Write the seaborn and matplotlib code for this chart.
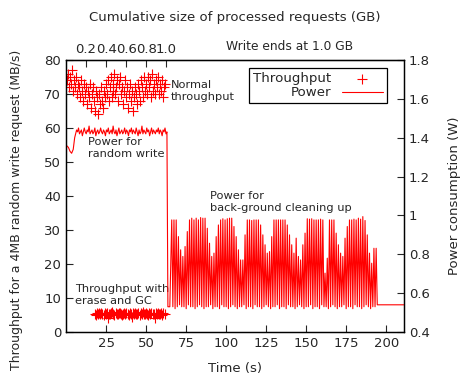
import numpy as np
import pandas as pd
import seaborn as sns
import matplotlib.pyplot as plt
from matplotlib.ticker import FormatStrFormatter

# throughput of the normal run (MB/s), one sample every 0.62 s
normal_start, normal_step = 0.5, 0.62
normal_tput = [74, 76, 72, 75, 73, 77, 71, 74, 72, 75,
               70, 73, 72, 69, 74, 71, 68, 73, 70, 72,
               67, 71, 69, 73, 66, 70, 72, 68, 65, 71,
               69, 64, 70, 67, 72, 68, 66, 71, 69, 73,
               70, 74, 68, 72, 75, 69, 73, 71, 76, 70,
               72, 74, 68, 73, 75, 70, 72, 67, 71, 74,
               69, 72, 66, 70, 73, 68, 71, 65, 69, 72,
               70, 67, 73, 71, 68, 74, 72, 69, 75, 71,
               73, 70, 75, 72, 74, 69, 76, 71, 73, 70,
               74, 72, 75, 70, 73, 71, 74, 69, 72, 73]

# throughput with erase and GC (MB/s), one sample every 0.68 s
gc_start, gc_step = 18.0, 0.68
gc_tput = [5.4, 5.1, 5.6, 5.3, 5.5, 5.2, 5.7, 5.4, 5.0, 5.5,
           5.3, 5.6, 4.2, 5.4, 5.2, 5.5, 5.8, 5.3, 5.1, 5.6,
           5.4, 5.2, 5.5, 5.7, 5.3, 5.0, 5.4, 5.6, 5.2, 5.5,
           5.3, 5.1, 5.6, 5.4, 4.3, 5.5, 5.2, 5.7, 5.3, 5.4,
           5.6, 5.1, 5.5, 5.3, 5.8, 5.2, 5.4, 5.6, 5.3, 5.0,
           5.5, 5.2, 5.6, 5.4, 5.3, 4.1, 5.5, 5.2, 5.7, 5.4,
           5.3, 5.6, 5.1, 5.5, 5.4]

# power consumption (W)
head_t = [0.0, 0.3, 1.5, 2.5, 3.5, 4.5, 5.4]
head_w = [0.52, 1.36, 1.35, 1.33, 1.32, 1.34, 1.40]

plateau_start, plateau_step = 6.0, 0.6
plateau_w = [1.42, 1.44, 1.43, 1.45, 1.42, 1.43, 1.44, 1.41, 1.43, 1.45,
             1.43, 1.42, 1.44, 1.43, 1.46, 1.42, 1.43, 1.44, 1.42, 1.43,
             1.45, 1.41, 1.43, 1.44, 1.42, 1.43, 1.45, 1.43, 1.42, 1.44,
             1.43, 1.41, 1.44, 1.43, 1.45, 1.42, 1.43, 1.44, 1.42, 1.46,
             1.43, 1.42, 1.44, 1.41, 1.43, 1.45, 1.42, 1.43, 1.44, 1.42,
             1.43, 1.45, 1.42, 1.44, 1.43, 1.41, 1.44, 1.43, 1.45, 1.42,
             1.44, 1.43, 1.42, 1.45, 1.43, 1.41, 1.44, 1.42, 1.43, 1.46,
             1.42, 1.44, 1.43, 1.42, 1.45, 1.43, 1.44, 1.41, 1.43, 1.45,
             1.42, 1.44, 1.43, 1.42, 1.44, 1.43, 1.45, 1.42, 1.44, 1.43,
             1.41, 1.44, 1.43, 1.45, 1.42]

drop_t = [63.0, 63.6, 64.8]
drop_w = [1.43, 0.53, 0.53]

# back-ground cleaning: peaks every ~1.39 s, each followed by a low
spike_start, spike_step = 66.0, 1.387
spike_peaks = [0.977, 0.977, 0.977, 0.891, 0.823, 0.789, 0.840, 0.917, 0.977, 0.986,
               0.977, 0.986, 0.977, 0.989, 0.986, 0.986, 0.934, 0.857, 0.789, 0.806,
               0.891, 0.951, 0.977, 0.983, 0.977, 0.983, 0.986, 0.986, 0.943, 0.891,
               0.823, 0.771, 0.771, 0.900, 0.977, 0.977, 0.974, 0.977, 0.977, 0.977,
               0.951, 0.900, 0.849, 0.806, 0.814, 0.891, 0.977, 0.977, 0.977, 0.977,
               0.977, 0.977, 0.951, 0.900, 0.849, 0.806, 0.883, 0.789, 0.771, 0.849,
               0.909, 0.983, 0.981, 0.983, 0.977, 0.977, 0.977, 0.981, 0.977, 0.703,
               0.780, 0.977, 0.977, 0.977, 0.909, 0.849, 0.806, 0.789, 0.883, 0.943,
               0.977, 0.977, 0.981, 0.977, 0.986, 0.981, 0.994, 0.974, 0.900, 0.806,
               0.754, 0.831, 0.831]
spike_lows = [0.53, 0.52, 0.53, 0.54, 0.53, 0.53, 0.52, 0.54, 0.53, 0.53,
              0.52, 0.53, 0.54, 0.53, 0.52, 0.53, 0.53, 0.54, 0.52, 0.53,
              0.53, 0.52, 0.54, 0.53, 0.53, 0.52, 0.53, 0.54, 0.53, 0.52,
              0.53, 0.53, 0.54, 0.52, 0.53, 0.53, 0.52, 0.54, 0.53, 0.53,
              0.52, 0.53, 0.54, 0.53, 0.52, 0.53, 0.53, 0.54, 0.52, 0.53,
              0.53, 0.52, 0.54, 0.53, 0.53, 0.52, 0.53, 0.54, 0.53, 0.52,
              0.53, 0.53, 0.54, 0.52, 0.53, 0.53, 0.52, 0.54, 0.53, 0.53,
              0.52, 0.53, 0.54, 0.53, 0.52, 0.53, 0.53, 0.54, 0.52, 0.53,
              0.53, 0.52, 0.54, 0.53, 0.53, 0.52, 0.53, 0.54, 0.53, 0.52,
              0.53, 0.53, 0.54]

tail_t = [194.5, 211.0]
tail_w = [0.54, 0.54]

secs_per_gb = 62.5

x_ticks = [25, 50, 75, 100, 125, 150, 175, 200]
gb_ticks = [0.2, 0.4, 0.6, 0.8, 1.0]
gb_labels = ['0.2', '0.4', '0.6', '0.8', '1.0']

# ---- assemble tables
tput = pd.DataFrame({
    't': np.concatenate([normal_start + normal_step * np.arange(len(normal_tput)),
                         gc_start + gc_step * np.arange(len(gc_tput))]),
    'mbps': normal_tput + gc_tput,
})

spike_t = spike_start + spike_step * np.arange(len(spike_peaks))
spike_pairs_t = np.ravel(np.column_stack([spike_t, spike_t + spike_step / 2]))
spike_pairs_w = np.ravel(np.column_stack([spike_peaks, spike_lows]))
power = pd.DataFrame({
    't': np.concatenate([head_t,
                         plateau_start + plateau_step * np.arange(len(plateau_w)),
                         drop_t, spike_pairs_t, tail_t]),
    'watt': np.concatenate([head_w, plateau_w, drop_w, spike_pairs_w, tail_w]),
})

sns.set_style('ticks')
plt.rcParams['font.family'] = ['DejaVu Sans']

fig = plt.figure(figsize=(4.61, 3.81), dpi=100)
ax = fig.add_axes([0.1432, 0.1286, 0.7332, 0.7139])
ax2 = ax.twinx()

sns.scatterplot(data=tput, x='t', y='mbps', marker='+', color='red', s=45,
                linewidth=0.8, ax=ax, label='Throughput', legend=False)
sns.lineplot(data=power, x='t', y='watt', color='red', lw=0.8, estimator=None,
             sort=False, ax=ax2, label='Power', legend=False)

ax.set_xlim(0, 211)
ax.set_ylim(0, 80)
ax2.set_ylim(0.4, 1.8)
ax.set_xticks(x_ticks)
ax.set_yticks(range(0, 81, 10))
ax2.set_yticks(np.arange(0.4, 1.81, 0.2))
ax2.yaxis.set_major_formatter(FormatStrFormatter('%g'))

for a in (ax, ax2):
    a.tick_params(direction='in', length=5, width=0.8, labelsize=9.5)
    for s in a.spines.values():
        s.set_linewidth(0.9)
        s.set_color('black')

ax.set_xlabel('Time (s)', fontsize=9.5, labelpad=9)
ax.set_ylabel('Throughput for a 4MB random write request (MB/s)', fontsize=9)
ax.yaxis.set_label_coords(-0.128, 0.45)
ax2.set_ylabel('Power consumption (W)', fontsize=9.5, labelpad=13)

top = ax.secondary_xaxis('top', functions=(lambda t: t / secs_per_gb,
                                           lambda g: g * secs_per_gb))
top.set_xticks(gb_ticks)
top.set_xticklabels(gb_labels)
top.tick_params(direction='in', length=5, width=0.8, labelsize=9.5, pad=3)
top.set_xlabel('Cumulative size of processed requests (GB)', fontsize=9.5, labelpad=16)
fig.text(290 / 461, 1 - 47 / 381, 'Write ends at 1.0 GB', fontsize=8.8,
         ha='center', va='center')

note = dict(fontsize=8.2, ha='left', va='center', linespacing=1.25)
ax.text(65.6, 71.0, 'Normal\nthroughput', **note)
ax.text(13.7, 54.0, 'Power for\nrandom write', **note)
ax.text(90.0, 38.2, 'Power for\nback-ground cleaning up', **note)
ax.text(5.6, 10.9, 'Throughput with\nerase and GC', **note)

h1, l1 = ax.get_legend_handles_labels()
h2, l2 = ax2.get_legend_handles_labels()
leg = ax2.legend(h1 + h2, l1 + l2, loc='upper right', bbox_to_anchor=(0.9497, 0.9706),
                 borderaxespad=0, markerfirst=False, fancybox=False, framealpha=1,
                 edgecolor='black', fontsize=9.6, handlelength=3.1, borderpad=0.3,
                 labelspacing=0.1, handletextpad=0.8)
leg.get_frame().set_linewidth(0.9)

fig.savefig('out.png', dpi=100)
